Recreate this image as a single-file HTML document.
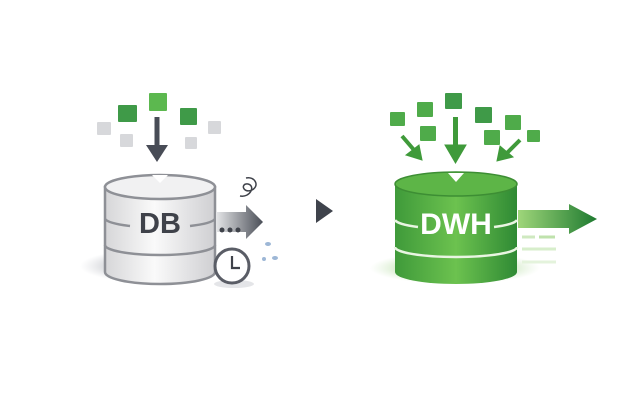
<!DOCTYPE html><html><head><style>body{margin:0;background:#fff}svg{display:block}</style></head><body>
<svg width="630" height="420" viewBox="0 0 630 420" xmlns="http://www.w3.org/2000/svg" font-family="Liberation Sans, sans-serif">
<defs>
<linearGradient id="gb" x1="0" x2="1"><stop offset="0" stop-color="#d6d6d8"/><stop offset=".45" stop-color="#fafafa"/><stop offset="1" stop-color="#cfcfd2"/></linearGradient>
<linearGradient id="gg" x1="0" x2="1"><stop offset="0" stop-color="#3f9a3a"/><stop offset=".5" stop-color="#6cc24f"/><stop offset="1" stop-color="#2f8a34"/></linearGradient>
<linearGradient id="ga" x1="0" x2="1"><stop offset="0" stop-color="#e5e6e8"/><stop offset="1" stop-color="#4a4e57"/></linearGradient>
<linearGradient id="gga" x1="0" x2="1"><stop offset="0" stop-color="#9fd67a"/><stop offset="1" stop-color="#1e7a30"/></linearGradient>
<radialGradient id="sh"><stop offset="0" stop-color="#d4d6da"/><stop offset=".7" stop-color="#dfe0e3"/><stop offset="1" stop-color="#e6e7ea" stop-opacity="0"/></radialGradient>
<radialGradient id="shg"><stop offset="0" stop-color="#cfe8c4"/><stop offset=".7" stop-color="#dcefd3"/><stop offset="1" stop-color="#e6f3e0" stop-opacity="0"/></radialGradient>
</defs>
<!-- left -->
<ellipse cx="155" cy="266" rx="75" ry="17" fill="url(#sh)"/>
<g fill="#d7d8db"><rect x="97" y="122" width="14" height="13" rx="1"/><rect x="120" y="134" width="13" height="13" rx="1"/><rect x="185" y="137" width="12" height="12" rx="1"/><rect x="208" y="121" width="13" height="13" rx="1"/></g>
<rect x="118" y="105" width="19" height="17" rx="1" fill="#3f9a48"/>
<rect x="149" y="93" width="18" height="18" rx="1" fill="#5cb84f"/>
<rect x="180" y="108" width="17" height="17" rx="1" fill="#3f9a48"/>
<path d="M105 187 V272 A55 12 0 0 0 215 272 V187 Z" fill="url(#gb)" stroke="#8e9096" stroke-width="2.5"/>
<ellipse cx="160" cy="187" rx="55" ry="12" fill="#f1f1f2" stroke="#8e9096" stroke-width="2.5"/>
<path d="M105 219 A55 10 0 0 0 130 226 M190 226 A55 10 0 0 0 215 219 M105 245 A55 10 0 0 0 215 245" fill="none" stroke="#8e9096" stroke-width="2.5"/>
<text x="160" y="233" font-size="29" font-weight="bold" fill="#3f424a" text-anchor="middle">DB</text>
<path d="M152 175 L160 183 L168 175 Z" fill="#fff"/>
<rect x="154.5" y="117" width="5" height="30" fill="#484c56"/><path d="M146 145 L168 145 L157 162 Z" fill="#484c56"/>
<path d="M216 212 H246 V205 L263 222 L246 239 V232 H216 Z" fill="url(#ga)"/>
<g fill="#3f424a"><circle cx="222" cy="230" r="2.5"/><circle cx="230" cy="230" r="2.5"/><circle cx="238" cy="230" r="2.5"/></g>
<path d="M240 196 C250 198 256 186 248 184 C240 183 243 194 252 190 C260 186 255 176 246 178" fill="none" stroke="#3f424a" stroke-width="1.5"/>
<ellipse cx="234" cy="284" rx="20" ry="4" fill="#e4e5e8"/>
<circle cx="232" cy="266" r="17" fill="#fff" stroke="#5a5d66" stroke-width="3"/>
<path d="M232 256 V268 H240" fill="none" stroke="#3f424a" stroke-width="2.2"/>
<g fill="#9db7d6"><ellipse cx="268" cy="244" rx="3" ry="2"/><ellipse cx="275" cy="258" rx="3" ry="2"/><ellipse cx="264" cy="259" rx="2" ry="2"/></g>
<!-- middle -->
<path d="M316 199 L333 211 L316 223 Z" fill="#3f434c"/>
<!-- right -->
<ellipse cx="455" cy="268" rx="85" ry="16" fill="url(#shg)"/>
<g fill="#4fab4a"><rect x="390" y="112" width="15" height="14" rx="1"/><rect x="417" y="102" width="16" height="15" rx="1"/><rect x="420" y="126" width="16" height="15" rx="1"/><rect x="445" y="93" width="17" height="16" rx="1" fill="#3f9a48"/><rect x="475" y="107" width="17" height="16" rx="1" fill="#3f9a48"/><rect x="484" y="130" width="16" height="15" rx="1"/><rect x="505" y="115" width="16" height="15" rx="1"/><rect x="527" y="130" width="13" height="12" rx="1"/></g>
<g fill="#3f9a3a" stroke="#3f9a3a"><line x1="402" y1="136" x2="414" y2="150" stroke-width="4"/><path d="M406 155 L422 160 L419 145 Z"/><rect x="453" y="117" width="5" height="30" stroke="none"/><path d="M445 145 L466 145 L455.5 163 Z"/><line x1="520" y1="140" x2="507" y2="153" stroke-width="4"/><path d="M500 146 L497 161 L513 157 Z"/></g>
<path d="M395 184 V272 A61 12 0 0 0 517 272 V184 Z" fill="url(#gg)"/>
<ellipse cx="456" cy="184" rx="61" ry="12" fill="#5db547" stroke="#3d8e34" stroke-width="1.5"/>
<path d="M395 220 A61 10 0 0 0 418 227 M494 227 A61 10 0 0 0 517 220 M395 247 A61 10 0 0 0 517 247" fill="none" stroke="#e9f5e2" stroke-width="2.5"/>
<text x="456" y="234" font-size="30" font-weight="bold" fill="#fff" text-anchor="middle">DWH</text>
<path d="M448 173 L456 182 L464 173 Z" fill="#fff"/>
<path d="M518 210 H569 V204 L597 219 L569 234 V228 H518 Z" fill="url(#gga)"/>
<g stroke-width="3"><line x1="522" y1="237" x2="535" y2="237" stroke="#cfe9c0"/><line x1="539" y1="237" x2="555" y2="237" stroke="#bfe2ac"/><line x1="522" y1="249" x2="556" y2="249" stroke="#d7eecb"/><line x1="522" y1="262" x2="556" y2="262" stroke="#e4f3dc"/></g>
</svg>
</body></html>
